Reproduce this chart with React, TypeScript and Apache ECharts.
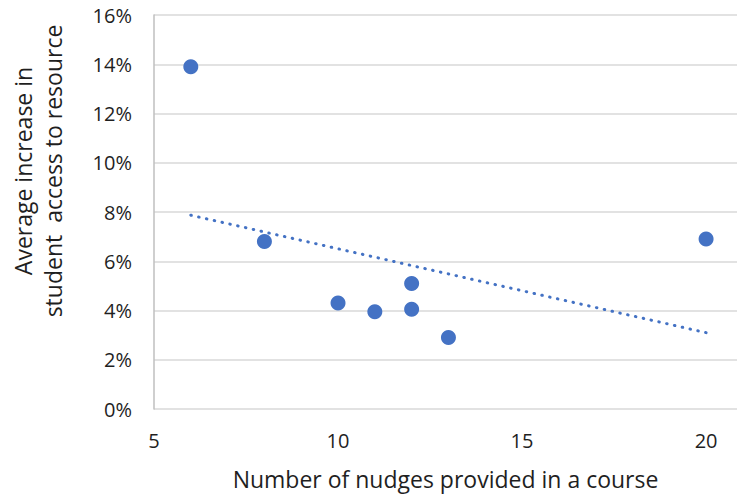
import React, { useEffect, useRef } from "react";
import * as echarts from "echarts";

const nudges = [6, 8, 10, 11, 12, 12, 13, 20];
const increasePct = [13.9, 6.8, 4.3, 3.95, 5.1, 4.05, 2.9, 6.9];
const trendX = [6, 20];
const trendY = [7.87, 3.1];
const yTicks = [0, 2, 4, 6, 8, 10, 12, 14, 16];
const xTicks = [5, 10, 15, 20];
const xTitle = "Number of nudges provided in a course";
const yTitleLines = ["Average increase in", "student  access to resource"];

const FONT = "Open Sans";
const TEXT = "#1f1f1f";

export default function App() {
  const ref = useRef<HTMLDivElement>(null);
  useEffect(() => {
    if (!ref.current) return;
    const chart = echarts.init(ref.current, null, { renderer: "svg" });
    const blue = "#4472C4";
    chart.setOption({
      animation: false,
      backgroundColor: "#ffffff",
      grid: { left: 154, top: 15, bottom: 85, right: 0, outerBoundsMode: "none", containLabel: false },
      graphic: [
        {
          type: "text",
          x: 38,
          y: 171,
          rotation: Math.PI / 2,
          style: {
            text: yTitleLines.join("\n"),
            fontFamily: FONT,
            fontSize: 23,
            lineHeight: 30,
            fill: TEXT,
            align: "center",
            verticalAlign: "middle",
          },
        },
      ],
      xAxis: {
        type: "value",
        min: xTicks[0],
        max: 20.84,
        interval: 5,
        name: xTitle,
        nameLocation: "middle",
        nameGap: 58,
        nameTextStyle: { fontFamily: FONT, fontSize: 23, color: TEXT },
        axisLine: { show: false },
        axisTick: { show: false },
        splitLine: { show: false },
        axisLabel: {
          showMaxLabel: false,
          margin: 21,
          fontFamily: FONT,
          fontSize: 20,
          color: TEXT,
          formatter: (v: number) => (xTicks.includes(v) ? String(v) : ""),
        },
      },
      yAxis: {
        type: "value",
        min: yTicks[0],
        max: yTicks[yTicks.length - 1],
        interval: 2,
        axisLine: { show: true, lineStyle: { color: "#BFBFBF", width: 1.5 } },
        axisTick: { show: false },
        splitLine: { show: true, lineStyle: { color: "#D9D9D9", width: 1.5 } },
        axisLabel: {
          margin: 22,
          fontFamily: FONT,
          fontSize: 20,
          color: TEXT,
          formatter: (v: number) => `${v}%`,
        },
      },
      series: [
        {
          type: "line",
          data: trendX.map((x, i) => [x, trendY[i]]),
          symbol: "none",
          lineStyle: { color: blue, width: 3, type: [0.5, 7.5], cap: "round" },
          z: 1,
        },
        {
          type: "scatter",
          data: nudges.map((x, i) => [x, increasePct[i]]),
          symbol: "circle",
          symbolSize: 15,
          itemStyle: { color: blue, opacity: 1 },
          z: 2,
        },
      ],
    });
    return () => chart.dispose();
  }, []);
  return (
    <div
      ref={ref}
      style={{ position: "fixed", left: 0, top: 0, width: 737, height: 494 }}
    />
  );
}
